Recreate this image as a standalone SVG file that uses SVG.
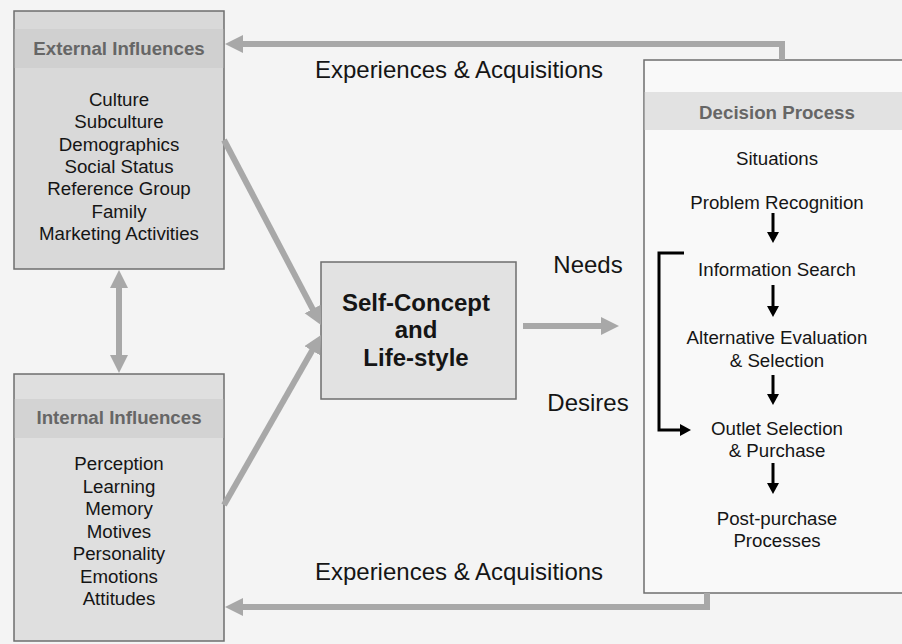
<svg xmlns="http://www.w3.org/2000/svg" width="902" height="644" viewBox="0 0 902 644">
<style>
  .t { font-family: "Liberation Sans", Arial, sans-serif; font-size: 18.7px; fill: #151515; text-anchor: middle; }
  .h { font-family: "Liberation Sans", Arial, sans-serif; font-size: 18.7px; font-weight: bold; fill: #666666; text-anchor: middle; }
  .big { font-family: "Liberation Sans", Arial, sans-serif; font-size: 24px; fill: #151515; text-anchor: middle; }
  .bigb { font-family: "Liberation Sans", Arial, sans-serif; font-size: 24px; font-weight: bold; fill: #151515; text-anchor: middle; }
  .box { stroke: #6e6e6e; stroke-width: 1.5; }
  .garrow { fill: none; stroke: #a8a8a8; stroke-width: 6; }
  .barrow { fill: none; stroke: #000000; stroke-width: 3; }
</style>
<defs>
  <marker id="gh" markerUnits="userSpaceOnUse" markerWidth="20" markerHeight="20" refX="1" refY="9" orient="auto-start-reverse">
    <path d="M0,0 L18,9 L0,18 z" fill="#a8a8a8"/>
  </marker>
  <marker id="bh" markerUnits="userSpaceOnUse" markerWidth="14" markerHeight="14" refX="1" refY="6" orient="auto">
    <path d="M0,0 L11,6 L0,12 z" fill="#000000"/>
  </marker>
</defs>
<rect x="0" y="0" width="902" height="644" fill="#f4f4f4"/>

<g id="external-influences">
  <rect class="box" x="14" y="11" width="210" height="258" fill="#d9d9d9"/>
  <rect x="14.75" y="29" width="208.5" height="39" fill="#d0d0d0"/>
  <text class="h" x="119" y="55">External Influences</text>
  <text class="t" x="119" y="106">Culture</text>
  <text class="t" x="119" y="128.3">Subculture</text>
  <text class="t" x="119" y="150.7">Demographics</text>
  <text class="t" x="119" y="173">Social Status</text>
  <text class="t" x="119" y="195.3">Reference Group</text>
  <text class="t" x="119" y="217.7">Family</text>
  <text class="t" x="119" y="240">Marketing Activities</text>
</g>

<g id="internal-influences">
  <rect class="box" x="14" y="374" width="210" height="267" fill="#dfdfdf"/>
  <rect x="14.75" y="399" width="208.5" height="39" fill="#d3d3d3"/>
  <text class="h" x="119" y="424">Internal Influences</text>
  <text class="t" x="119" y="470">Perception</text>
  <text class="t" x="119" y="492.5">Learning</text>
  <text class="t" x="119" y="515">Memory</text>
  <text class="t" x="119" y="537.5">Motives</text>
  <text class="t" x="119" y="560">Personality</text>
  <text class="t" x="119" y="582.5">Emotions</text>
  <text class="t" x="119" y="605">Attitudes</text>
</g>

<g id="self-concept">
  <rect class="box" x="321" y="262" width="195" height="137" fill="#e2e2e2"/>
  <text class="bigb" x="416" y="311">Self-Concept</text>
  <text class="bigb" x="416" y="338">and</text>
  <text class="bigb" x="416" y="366">Life-style</text>
</g>

<g id="decision-process">
  <rect class="box" x="644" y="60" width="270" height="533" fill="#f9f9f9"/>
  <rect x="644.75" y="92" width="260" height="38" fill="#e2e2e2"/>
  <text class="h" x="777" y="118.5">Decision Process</text>
  <text class="t" x="777" y="164.5">Situations</text>
  <text class="t" x="777" y="208.5">Problem Recognition</text>
  <text class="t" x="777" y="275.5">Information Search</text>
  <text class="t" x="777" y="343.5">Alternative Evaluation</text>
  <text class="t" x="777" y="366.5">&amp; Selection</text>
  <text class="t" x="777" y="434.5">Outlet Selection</text>
  <text class="t" x="777" y="456.5">&amp; Purchase</text>
  <text class="t" x="777" y="524.5">Post-purchase</text>
  <text class="t" x="777" y="546.5">Processes</text>
</g>

<g id="labels">
  <text class="big" x="459" y="78">Experiences &amp; Acquisitions</text>
  <text class="big" x="459" y="580">Experiences &amp; Acquisitions</text>
  <text class="big" x="588" y="273">Needs</text>
  <text class="big" x="588" y="411">Desires</text>
</g>

<g id="connectors">
  <polyline class="garrow" points="782,60 782,44 242,44" marker-end="url(#gh)"/>
  <polyline class="garrow" points="707,593 707,607 242,607" marker-end="url(#gh)"/>
  <line class="garrow" x1="119" y1="287" x2="119" y2="356" marker-start="url(#gh)" marker-end="url(#gh)"/>
  <line class="garrow" x1="224" y1="140" x2="313.1" y2="309.9" marker-end="url(#gh)"/>
  <line class="garrow" x1="224" y1="505" x2="312.6" y2="349.8" marker-end="url(#gh)"/>
  <line class="garrow" x1="523" y1="326" x2="602" y2="326" marker-end="url(#gh)"/>
  <line class="barrow" x1="773" y1="213" x2="773" y2="233" marker-end="url(#bh)"/>
  <line class="barrow" x1="773" y1="285" x2="773" y2="307" marker-end="url(#bh)"/>
  <line class="barrow" x1="773" y1="375" x2="773" y2="395" marker-end="url(#bh)"/>
  <line class="barrow" x1="773" y1="463" x2="773" y2="484" marker-end="url(#bh)"/>
  <polyline class="barrow" points="684,253 659,253 659,430 681,430" marker-end="url(#bh)"/>
</g>
</svg>
